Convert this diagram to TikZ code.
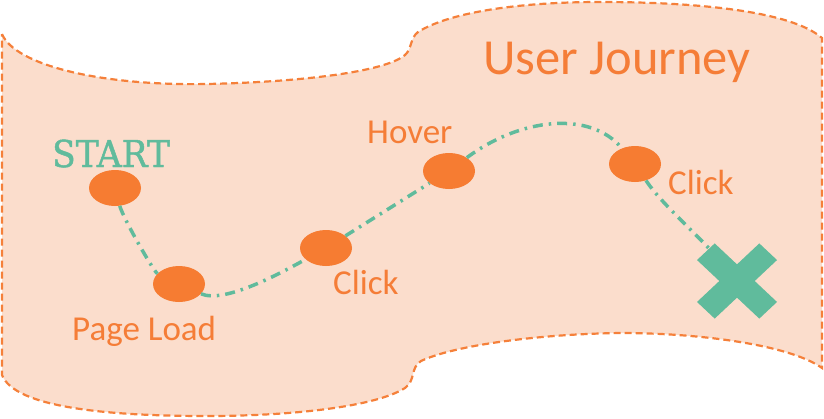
\documentclass[tikz,border=0pt]{standalone}
\usepackage{fontspec}
\usepackage{graphicx}
\setmainfont{Carlito}
\newfontfamily\slabfont[FakeBold=1.3]{DejaVu Serif}
\usetikzlibrary{shapes.geometric}
\definecolor{flagfill}{RGB}{251,221,204}
\definecolor{flagline}{RGB}{245,128,58}
\definecolor{dotorange}{RGB}{246,124,50}
\definecolor{txtorange}{RGB}{245,125,55}
\definecolor{pathteal}{RGB}{96,187,156}
\tikzset{
  flag/.style={fill=flagfill, draw=flagline, line width=2.2pt, dash pattern=on 7pt off 4pt},
  stop/.style={ellipse, fill=dotorange, minimum width=52pt, minimum height=36pt, inner sep=0pt},
  journey/.style={draw=pathteal, line width=3.5pt, dash pattern=on 10pt off 6pt on 2.5pt off 6pt},
  lbl/.style={anchor=base west, inner sep=0pt, text=txtorange, font=\fontsize{35}{42}\selectfont},
  cross/.style={fill=pathteal}
}
\begin{document}
\begin{tikzpicture}[x=1pt,y=-1pt]
\useasboundingbox (0,0) rectangle (824,418);
% flag
\path[flag] (2,34)
  .. controls (15,65) and (100,86) .. (207,84)
  .. controls (300,82) and (385,72) .. (405,55)
  .. controls (412,49) and (410,38) .. (418,32)
  .. controls (450,12) and (520,2) .. (600,2)
  .. controls (690,2) and (790,10) .. (822,38)
  -- (822,368)
  .. controls (790,345) and (700,333) .. (621,333)
  .. controls (540,334) and (455,345) .. (421,361)
  .. controls (410,368) and (416,380) .. (405,388)
  .. controls (375,407) and (290,416) .. (207,416)
  .. controls (110,416) and (15,408) .. (2,375)
  -- cycle;
% title
\node[lbl, font=\fontsize{50.5}{60}\selectfont] (title) at (483,74) {User Journey};
% stops
\node[stop] (n1) at (115,188) {};
\node[stop] (n2) at (179,284) {};
\node[stop] (n3) at (326,248) {};
\node[stop] (n4) at (449,171) {};
\node[stop] (n5) at (635,164) {};
\coordinate (xc) at (737,281);
% labels
\node[anchor=base west, inner sep=0pt, text=pathteal] (lstart) at (52,167)
  {\scalebox{0.93}[1]{\slabfont\fontsize{37}{44}\selectfont START}};
\node[lbl] (lpage) at (72,340) {Page Load};
\node[lbl] (lclick1) at (333,294) {Click};
\node[lbl] (lhover) at (367,143) {Hover};
\node[lbl] (lclick2) at (668,194) {Click};
% path
\draw[journey] (n1) .. controls +(8,30) and +(-25,-12) .. (n2);
\draw[journey] (n2) .. controls +(45,20) and +(-45,25) .. (n3);
\draw[journey] (n3) .. controls +(40,-25) and +(-40,25) .. (n4);
\draw[journey] (n4) .. controls +(71,-53) and +(-45,-54) .. (n5);
\draw[journey] (n5) .. controls +(30,45) and +(-30,-40) .. (xc);
% end cross
\fill[cross, shift={(xc)}, yscale=0.94]
  (22.3,40) -- (0,17.7) -- (-22.3,40) -- (-40,22.3) -- (-17.7,0) -- (-40,-22.3)
  -- (-22.3,-40) -- (0,-17.7) -- (22.3,-40) -- (40,-22.3) -- (17.7,0) -- (40,22.3) -- cycle;
\end{tikzpicture}
\end{document}
